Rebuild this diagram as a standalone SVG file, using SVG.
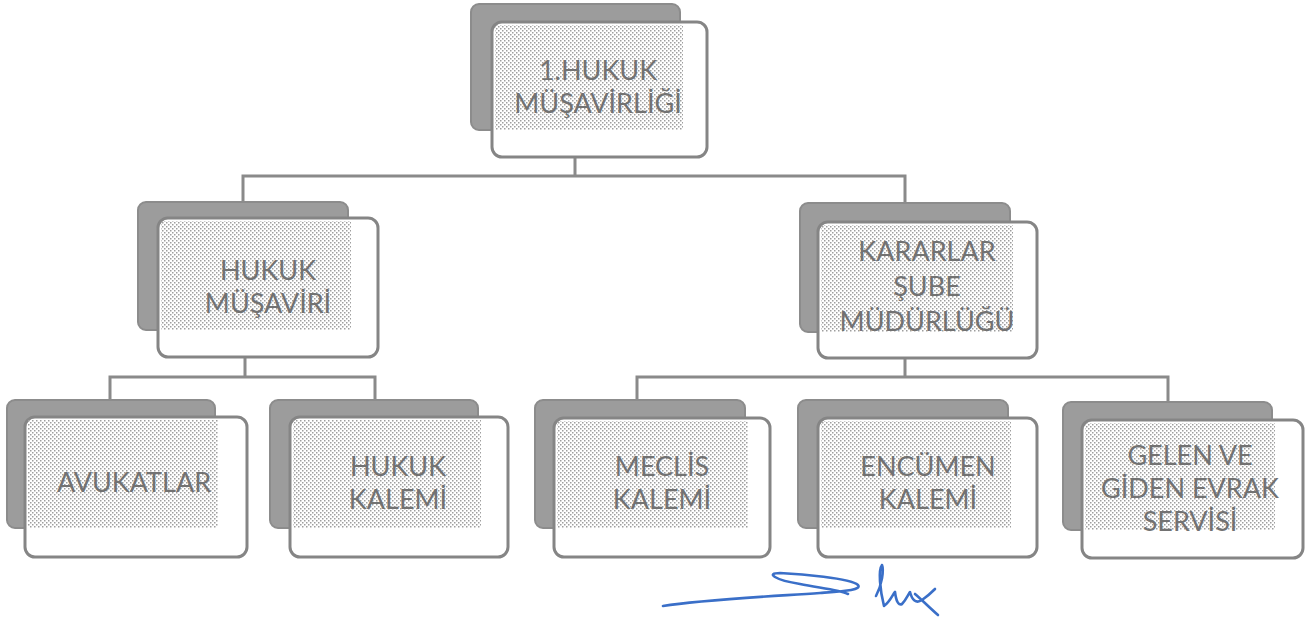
<svg xmlns="http://www.w3.org/2000/svg" width="1306" height="623" viewBox="0 0 1306 623">
<defs>
<pattern id="dots" width="4" height="4" patternUnits="userSpaceOnUse">
<rect x="0" y="0" width="1.5" height="1.5" fill="#9e9e9e"/>
<rect x="2" y="2" width="1.5" height="1.5" fill="#9e9e9e"/>
</pattern>
<style>
.back{fill:#9c9c9c;stroke:#8c8c8c;stroke-width:2}
.front{fill:#ffffff;stroke:#858585;stroke-width:3}
.dot{fill:url(#dots)}
.lbl{font-family:"Lato","Open Sans",sans-serif;font-size:27px;fill:#727272;text-anchor:middle}
.conn{fill:none;stroke:#8a8a8a;stroke-width:3}
.sig{fill:none;stroke:#3a6fc8;stroke-width:2.6;stroke-linecap:round;stroke-linejoin:round}
</style>
</defs>
<rect width="1306" height="623" fill="#ffffff"/>
<g id="connectors">
<path class="conn" d="M575,157 V176 M243,201 V176 H905 V202"/>
<path class="conn" d="M245,357 V377 M110,400 V377 H375 V400"/>
<path class="conn" d="M905,358 V377 M637,400 V377 H1168 V402"/>
</g>
<g id="n1">
<rect class="back" x="471" y="4" width="209" height="126" rx="8"/>
<rect class="front" x="492" y="22" width="215" height="135" rx="10"/>
<rect class="dot" x="495" y="25" width="188" height="105"/>
<text class="lbl"><tspan x="598" y="80">1.HUKUK</tspan><tspan x="598" y="113">MÜŞAVİRLİĞİ</tspan></text>
</g>
<g id="n2">
<rect class="back" x="138" y="202" width="210" height="128" rx="8"/>
<rect class="front" x="158" y="218" width="220" height="139" rx="10"/>
<rect class="dot" x="161" y="221" width="190" height="109"/>
<text class="lbl"><tspan x="268" y="280">HUKUK</tspan><tspan x="268" y="313">MÜŞAVİRİ</tspan></text>
</g>
<g id="n3">
<rect class="back" x="800" y="203" width="210" height="129" rx="8"/>
<rect class="front" x="818" y="222" width="219" height="136" rx="10"/>
<rect class="dot" x="821" y="225" width="192" height="107"/>
<text class="lbl"><tspan x="927" y="261">KARARLAR</tspan><tspan x="927" y="296">ŞUBE</tspan><tspan x="927" y="331">MÜDÜRLÜĞÜ</tspan></text>
</g>
<g id="n4">
<rect class="back" x="7" y="400" width="208" height="128" rx="8"/>
<rect class="front" x="25" y="417" width="222" height="140" rx="10"/>
<rect class="dot" x="28" y="420" width="190" height="108"/>
<text class="lbl"><tspan x="134" y="492">AVUKATLAR</tspan></text>
</g>
<g id="n5">
<rect class="back" x="270" y="400" width="208" height="128" rx="8"/>
<rect class="front" x="290" y="417" width="218" height="140" rx="10"/>
<rect class="dot" x="293" y="420" width="188" height="108"/>
<text class="lbl"><tspan x="398" y="476">HUKUK</tspan><tspan x="398" y="509">KALEMİ</tspan></text>
</g>
<g id="n6">
<rect class="back" x="535" y="400" width="210" height="128" rx="8"/>
<rect class="front" x="554" y="418" width="216" height="139" rx="10"/>
<rect class="dot" x="557" y="421" width="191" height="107"/>
<text class="lbl"><tspan x="662" y="476">MECLİS</tspan><tspan x="662" y="509">KALEMİ</tspan></text>
</g>
<g id="n7">
<rect class="back" x="798" y="400" width="210" height="128" rx="8"/>
<rect class="front" x="818" y="418" width="219" height="139" rx="10"/>
<rect class="dot" x="821" y="421" width="190" height="107"/>
<text class="lbl"><tspan x="928" y="476">ENCÜMEN</tspan><tspan x="928" y="509">KALEMİ</tspan></text>
</g>
<g id="n8">
<rect class="back" x="1063" y="402" width="209" height="128" rx="8"/>
<rect class="front" x="1082" y="420" width="221" height="138" rx="10"/>
<rect class="dot" x="1085" y="423" width="190" height="107"/>
<text class="lbl"><tspan x="1190" y="465">GELEN VE</tspan><tspan x="1190" y="498">GİDEN EVRAK</tspan><tspan x="1190" y="531">SERVİSİ</tspan></text>
</g>
<g id="signature">
<path class="sig" d="M663,606 C700,600 760,597 820,593 C845,591 862,590 858,585 C850,578 800,574 780,573 C765,573 775,580 800,584 C820,588 840,590 848,594"/>
<path class="sig" d="M876,596 C882,585 884,570 882,565 C878,570 880,590 884,606 C890,602 893,594 895,592 C896,600 898,606 902,604 C906,600 908,595 910,592 C912,600 916,604 922,600 C928,596 932,592 935,589 M915,594 C922,600 930,608 938,615"/>
</g>
</svg>
